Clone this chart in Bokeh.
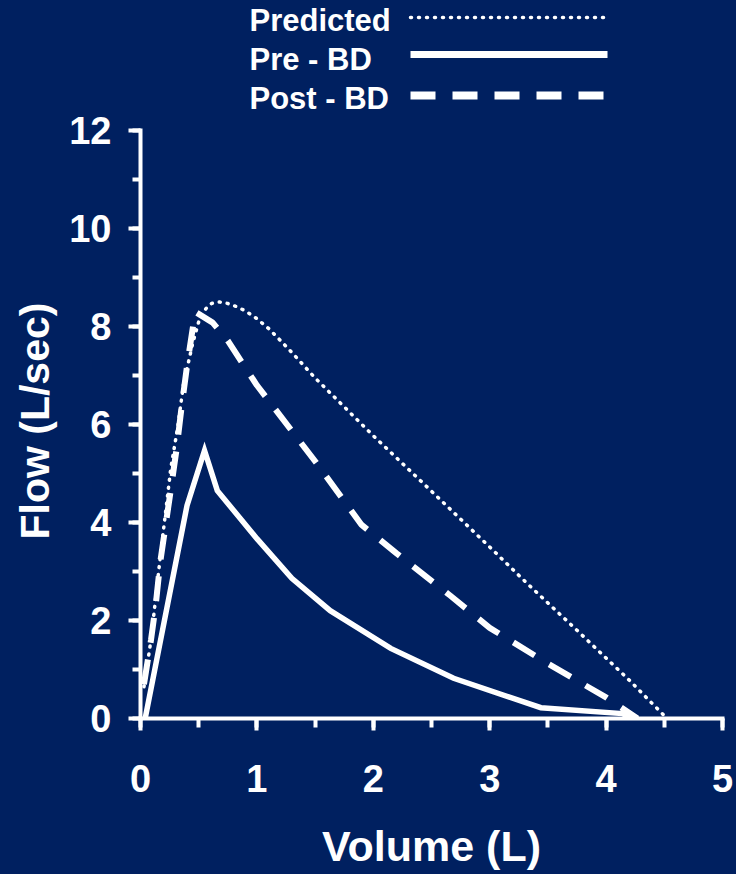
from bokeh.plotting import figure
from bokeh.models import SingleIntervalTicker, Range1d, Title
from bokeh.embed import file_html
from bokeh.resources import INLINE
from bokeh.core.properties import value

# ---------------- data ----------------
series_names = ["Predicted", "Pre - BD", "Post - BD"]

vol_pred = [0.03, 0.09, 0.17, 0.26, 0.32, 0.37, 0.45, 0.51, 0.57, 0.61, 0.68, 0.75,
            0.82, 0.90, 1.00, 1.10, 1.20, 1.30, 1.50, 2.00, 2.42, 3.00, 3.32, 3.75,
            4.20, 4.49]
flow_pred = [0.65, 1.6, 3.3, 5.1, 5.95, 6.83, 7.67, 8.18, 8.39, 8.47, 8.5, 8.47,
             8.41, 8.32, 8.16, 7.96, 7.72, 7.47, 6.95, 5.77, 4.82, 3.5, 2.76, 1.8,
             0.78, 0.08]

vol_pre = [0.04, 0.40, 0.55, 0.66, 1.00, 1.30, 1.63, 2.15, 2.69, 3.44, 4.14, 4.22]
flow_pre = [0.0, 4.35, 5.47, 4.65, 3.67, 2.86, 2.20, 1.43, 0.82, 0.22, 0.10, 0.0]

vol_post = [0.03, 0.09, 0.13, 0.17, 0.25, 0.31, 0.35, 0.40, 0.47, 0.62, 0.75, 1.00,
            1.50, 1.90, 2.20, 2.66, 3.00, 3.50, 4.00, 4.27]
flow_post = [0.7, 1.6, 2.3, 3.2, 4.5, 5.5, 6.3, 7.2, 8.3, 8.08, 7.71, 6.8,
             5.25, 3.95, 3.37, 2.51, 1.85, 1.12, 0.43, 0.0]

x_ticks = [0, 1, 2, 3, 4, 5]
y_ticks = [0, 2, 4, 6, 8, 10, 12]
x_title = "Volume (L)"
y_title = "Flow (L/sec)"

# ---------------- layout ----------------
BG = "#002060"
W, H = 736, 874
LEFT, RIGHT, BOTTOM = 140, 14, 156
FRAME_W = W - LEFT - RIGHT
FRAME_H = H - BOTTOM
PX_PER_Y = 49.0
Y_TOP = FRAME_H / PX_PER_Y          # frame runs up to the top of the page
X_MAX = float(x_ticks[-1])
PX_PER_X = FRAME_W / X_MAX


def px2x(px):
    return (px - LEFT) / PX_PER_X


def px2y(py):
    return (FRAME_H - py) / PX_PER_Y


FONT = "Liberation Sans"

p = figure(width=W, height=H, frame_width=FRAME_W, frame_height=FRAME_H,
           x_range=Range1d(0, X_MAX), y_range=Range1d(0, Y_TOP),
           output_backend="svg", toolbar_location=None,
           min_border_left=LEFT, min_border_right=RIGHT,
           min_border_top=0, min_border_bottom=BOTTOM)

p.styles = {"background-color": BG}
p.border_fill_color = BG
p.background_fill_color = BG
p.outline_line_color = None
p.grid.visible = False

# axes
p.xaxis.ticker = SingleIntervalTicker(interval=1, num_minor_ticks=2)
p.yaxis.ticker = SingleIntervalTicker(interval=2, num_minor_ticks=2)
p.yaxis.bounds = (y_ticks[0], y_ticks[-1])
p.xaxis.bounds = (x_ticks[0], x_ticks[-1])
for ax in (p.xaxis[0], p.yaxis[0]):
    ax.axis_line_color = "white"
    ax.axis_line_width = 4
    ax.axis_line_cap = "square"
    ax.major_tick_line_color = "white"
    ax.major_tick_line_width = 4
    ax.minor_tick_line_color = "white"
    ax.minor_tick_line_width = 4
    ax.major_tick_in = 0
    ax.major_tick_out = 12
    ax.minor_tick_in = 0
    ax.major_label_text_color = "white"
    ax.major_label_text_font = FONT
    ax.major_label_text_font_style = "bold"
    ax.major_label_text_font_size = "38px"

p.xaxis.minor_tick_out = 9
p.yaxis.minor_tick_out = 8
p.xaxis.major_label_standoff = 34
p.yaxis.major_label_standoff = 17

# x title: the axis' own label
xa = p.xaxis[0]
xa.axis_label = x_title
xa.axis_label_standoff = 27
xa.axis_label_text_color = "white"
xa.axis_label_text_font = FONT
xa.axis_label_text_font_style = "bold"
xa.axis_label_text_font_size = "43px"

# y title: a side title, so it can sit on the 0-12 span rather than the frame centre
p.add_layout(Title(text=y_title, align="left", offset=179, standoff=17,
                   text_color="white", text_font=FONT, text_font_style="bold",
                   text_font_size="41px"), "left")

# curves
p.line(vol_pred, flow_pred, line_color="white", line_width=3.5,
       line_dash="1 7", line_cap="round", line_join="round")
p.line(vol_pre, flow_pre, line_color="white", line_width=5.5, line_join="miter")
p.line(vol_post, flow_post, line_color="white", line_width=6, line_dash="25 17")

# legend (text on the left, sample on the right)
text_left = px2x(249)
centers = [20, 59, 98]
sample_y = [17, 54, 95]
x0, x1 = px2x(410), px2x(607)
p.text(x=[text_left] * 3, y=[px2y(c) for c in centers], text=series_names,
       text_color="white", text_font=value(FONT), text_font_style="bold",
       text_font_size="31px", text_baseline="middle", text_align="left")
p.line([x0, x1], [px2y(sample_y[0])] * 2, line_color="white", line_width=3.5,
       line_dash="1 7", line_cap="round")
p.line([x0, x1], [px2y(sample_y[1])] * 2, line_color="white", line_width=7)
p.line([x0, x1], [px2y(sample_y[2])] * 2, line_color="white", line_width=8,
       line_dash="25 17")

open("out.html", "w").write(file_html(p, INLINE))
